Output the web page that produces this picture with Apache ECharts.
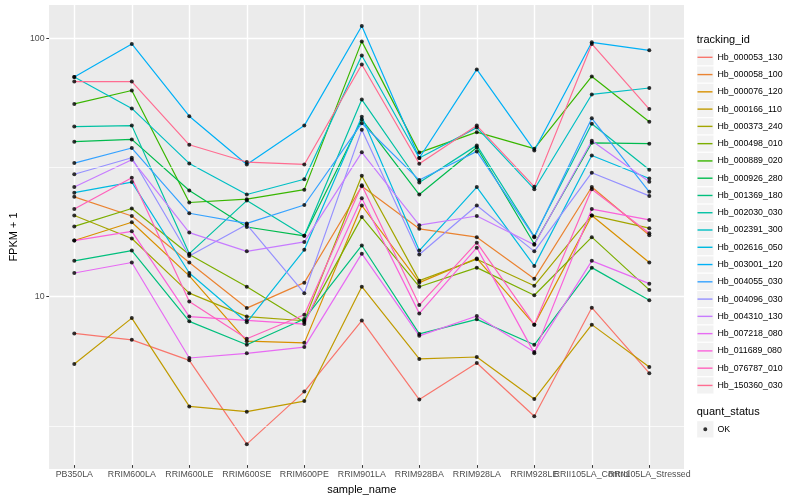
<!DOCTYPE html>
<html>
<head>
<meta charset="utf-8">
<script src="https://cdn.jsdelivr.net/npm/echarts@6/dist/echarts.min.js"></script>
<style>
html, body { margin: 0; padding: 0; background: #ffffff; }
#chart { width: 800px; height: 500px; }
</style>
</head>
<body>
<div id="chart"></div>
<script>
// ---- data ----
const categories = ["PB350LA", "RRIM600LA", "RRIM600LE", "RRIM600SE", "RRIM600PE", "RRIM901LA",
  "RRIM928BA", "RRIM928LA", "RRIM928LE", "RRII105LA_Control", "RRII105LA_Stressed"];

const trackingIds = ["Hb_000053_130", "Hb_000058_100", "Hb_000076_120", "Hb_000166_110", "Hb_000373_240",
  "Hb_000498_010", "Hb_000889_020", "Hb_000926_280", "Hb_001369_180", "Hb_002030_030", "Hb_002391_300",
  "Hb_002616_050", "Hb_003001_120", "Hb_004055_030", "Hb_004096_030", "Hb_004310_130", "Hb_007218_080",
  "Hb_011689_080", "Hb_076787_010", "Hb_150360_030"];

const hb_000053_130 = [7.03, 6.64, 5.52, 2.60, 4.17, 7.89, 3.88, 5.39, 3.34, 8.86, 4.92];
const hb_000058_100 = [24.0, 20.2, 13.3, 8.83, 11.1, 26.4, 18.0, 16.7, 11.5, 26.2, 17.0];
const hb_000076_120 = [16.2, 19.1, 11.8, 6.56, 6.46, 22.2, 11.1, 13.8, 7.61, 20.3, 13.3];
const hb_000166_110 = [5.34, 8.07, 3.65, 3.48, 3.83, 10.7, 5.59, 5.69, 3.90, 7.61, 5.20];
const hb_000373_240 = [20.3, 16.5, 10.1, 8.18, 7.88, 29.0, 11.3, 13.7, 10.8, 20.3, 18.1];
const hb_000498_010 = [18.4, 21.6, 14.3, 10.7, 7.80, 20.0, 10.7, 12.7, 9.91, 16.7, 10.4];
const hb_000889_020 = [55.3, 62.4, 22.8, 23.5, 25.6, 97.0, 35.7, 42.9, 37.0, 70.8, 47.1];
const hb_000926_280 = [39.4, 40.2, 25.4, 18.3, 16.9, 48.1, 24.5, 37.4, 15.7, 39.0, 38.7];
const hb_001369_180 = [13.5, 14.8, 7.84, 6.35, 8.00, 15.5, 7.00, 7.98, 6.35, 12.7, 9.48];
const hb_002030_030 = [45.1, 45.5, 14.4, 23.2, 16.9, 57.5, 27.3, 38.1, 16.8, 46.3, 30.6];
const hb_002391_300 = [70.4, 53.1, 32.4, 24.5, 28.1, 85.4, 34.0, 44.7, 25.7, 60.2, 63.8];
const hb_002616_050 = [24.9, 27.4, 12.1, 7.77, 14.9, 49.3, 14.8, 26.2, 12.9, 34.8, 28.3];
const hb_003001_120 = [70.4, 94.8, 49.5, 32.1, 45.5, 111.3, 34.0, 75.4, 36.4, 96.2, 89.5];
const hb_004055_030 = [32.5, 37.2, 20.7, 18.9, 22.3, 46.5, 27.9, 36.1, 16.7, 48.6, 25.1];
const hb_004096_030 = [29.4, 34.1, 14.1, 18.7, 10.1, 43.8, 14.3, 22.2, 14.7, 29.8, 24.2];
const hb_004310_130 = [26.2, 33.5, 17.4, 14.7, 16.0, 35.8, 18.6, 20.2, 15.6, 39.7, 27.5];
const hb_007218_080 = [12.1, 13.3, 5.64, 5.88, 6.22, 14.4, 6.88, 8.22, 5.95, 13.5, 11.0];
const hb_011689_080 = [16.2, 17.6, 8.18, 7.91, 7.65, 23.7, 8.42, 15.2, 5.89, 21.5, 19.5];
const hb_076787_010 = [21.5, 28.5, 9.37, 6.70, 8.32, 26.6, 9.07, 15.9, 7.61, 25.7, 17.3];
const hb_150360_030 = [67.6, 67.6, 38.3, 32.8, 32.1, 78.8, 32.3, 45.5, 26.3, 94.8, 52.8];

const yMajorTicks = [10, 100];
const yMinorTicks = [3.1623, 31.623];
const quantStatus = ["OK"];

// ---- styling ----
const seriesValues = [hb_000053_130, hb_000058_100, hb_000076_120, hb_000166_110, hb_000373_240,
  hb_000498_010, hb_000889_020, hb_000926_280, hb_001369_180, hb_002030_030, hb_002391_300,
  hb_002616_050, hb_003001_120, hb_004055_030, hb_004096_030, hb_004310_130, hb_007218_080,
  hb_011689_080, hb_076787_010, hb_150360_030];

const palette = ["#F8766D", "#EA8331", "#D89000", "#C09B00", "#A3A500", "#7CAE00", "#39B600", "#00BB4E",
  "#00BF7D", "#00C1A3", "#00BFC4", "#00BAE0", "#00B0F6", "#35A2FF", "#9590FF", "#C77CFF", "#E76BF3",
  "#FA62DB", "#FF62BC", "#FF6C91"];

const FONT = "'Liberation Sans', Arial, Helvetica, sans-serif";
const yMin = 2.154, yMax = 134.5;
const panel = { left: 40, right: 684, top: 5, bottom: 469 };
const catFirst = 74.3, catLast = 649.3;
const keyLeft = 696.7, keyTop = 48.67, keySize = 17.27;

const chart = echarts.init(document.getElementById('chart'), null, { renderer: 'canvas' });

const series = [];
// minor horizontal grid lines (on the background grid)
series.push({
  type: 'line', xAxisIndex: 0, yAxisIndex: 0, data: [], silent: true,
  markLine: {
    silent: true, symbol: ['none', 'none'], label: { show: false },
    lineStyle: { color: '#ffffff', width: 0.7, type: 'solid' },
    emphasis: { disabled: true },
    data: yMinorTicks.map(v => ({ yAxis: v }))
  }
});
trackingIds.forEach((id, k) => {
  series.push({
    type: 'line', name: id, xAxisIndex: 1, yAxisIndex: 1,
    data: seriesValues[k], symbol: 'none', showSymbol: false,
    color: palette[k],
    lineStyle: { color: palette[k], width: 1.2 },
    emphasis: { disabled: true }, z: 2
  });
});
const pts = [];
seriesValues.forEach(arr => arr.forEach((v, i) => pts.push([i, v])));
series.push({
  type: 'scatter', name: quantStatus[0], xAxisIndex: 1, yAxisIndex: 1,
  data: pts, symbol: 'circle', symbolSize: 4, color: '#000000',
  itemStyle: { color: '#000000' }, emphasis: { disabled: true }, z: 3
});

const graphics = [];
trackingIds.forEach((id, k) => {
  graphics.push({ type: 'rect', shape: { x: keyLeft, y: keyTop + k * keySize, width: keySize, height: keySize },
    style: { fill: '#F2F2F2', stroke: '#ffffff', lineWidth: 1 }, z: -1, silent: true });
});
graphics.push({ type: 'rect', shape: { x: keyLeft, y: 420.7, width: keySize, height: keySize },
  style: { fill: '#F2F2F2', stroke: '#ffffff', lineWidth: 1 }, z: -1, silent: true });
graphics.push({ type: 'text', x: keyLeft, y: 40, silent: true,
  style: { text: 'tracking_id', fill: '#000', fontSize: 11, fontFamily: FONT, verticalAlign: 'middle' } });
graphics.push({ type: 'text', x: keyLeft, y: 412.3, silent: true,
  style: { text: 'quant_status', fill: '#000', fontSize: 11, fontFamily: FONT, verticalAlign: 'middle' } });

const option = {
  animation: false,
  backgroundColor: '#ffffff',
  textStyle: { fontFamily: FONT },
  grid: [
    { left: panel.left, right: 800 - panel.right, top: panel.top, bottom: 500 - panel.bottom,
      show: true, backgroundColor: '#EBEBEB', borderWidth: 0 },
    { left: catFirst, right: 800 - catLast, top: panel.top, bottom: 500 - panel.bottom }
  ],
  xAxis: [
    { gridIndex: 0, type: 'value', min: 0, max: 1, show: false },
    { gridIndex: 1, type: 'category', data: categories, boundaryGap: false,
      axisLine: { show: false },
      axisTick: { show: true, interval: 0, length: 2.75, lineStyle: { color: '#333333', width: 1 } },
      axisLabel: { interval: 0, margin: 5, color: '#4D4D4D', fontSize: 8.8, fontFamily: FONT, hideOverlap: false },
      splitLine: { show: true, interval: 0, lineStyle: { color: '#ffffff', width: 1.4 } },
      name: 'sample_name', nameLocation: 'middle', nameGap: 14.5,
      nameTextStyle: { color: '#000000', fontSize: 11, fontFamily: FONT } }
  ],
  yAxis: [
    { gridIndex: 0, type: 'log', logBase: 10, min: yMin, max: yMax,
      axisLine: { show: false },
      axisTick: { show: true, length: 2.75, customValues: yMajorTicks, lineStyle: { color: '#333333', width: 1 } },
      axisLabel: { customValues: yMajorTicks, margin: 4.5, color: '#4D4D4D', fontSize: 8.8, fontFamily: FONT,
        formatter: v => String(Math.round(v)) },
      splitLine: { show: true, lineStyle: { color: '#ffffff', width: 1.4 } },
      name: 'FPKM + 1', nameLocation: 'middle', nameGap: 22, nameRotate: 90,
      nameTextStyle: { color: '#000000', fontSize: 11, fontFamily: FONT } },
    { gridIndex: 1, type: 'log', logBase: 10, min: yMin, max: yMax, show: false }
  ],
  legend: [
    { data: trackingIds, orient: 'vertical', left: 697.5, top: keyTop, itemWidth: 15, itemHeight: keySize,
      itemGap: 0, icon: 'path://M0,0H15V1.4H0Z', selectedMode: false, padding: 0,
      textStyle: { fontSize: 8.8, color: '#000000', fontFamily: FONT, lineHeight: keySize } },
    { data: quantStatus, orient: 'vertical', left: 697.5, top: 420.7, itemWidth: 15, itemHeight: keySize,
      itemGap: 0, selectedMode: false, padding: 0,
      icon: 'path://M0,0h0.01v0.01h-0.01z M15,17.27h0.01v0.01h-0.01z M7.8,6.6a2,2 0 1,1 0,4a2,2 0 1,1 0,-4z',
      textStyle: { fontSize: 8.8, color: '#000000', fontFamily: FONT, lineHeight: keySize } }
  ],
  graphic: graphics,
  series: series
};
chart.setOption(option);
</script>
</body>
</html>
